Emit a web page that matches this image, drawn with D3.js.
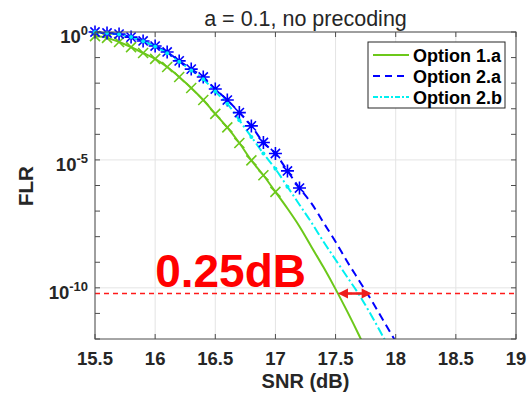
<!DOCTYPE html>
<html>
<head>
<meta charset="utf-8">
<script src="https://cdn.jsdelivr.net/npm/d3@7"></script>
<style>
    body { margin: 0; background: #fff; }
    svg { display: block; font-family: 'Liberation Sans', Arial, sans-serif; }
</style>
</head>
<body>
<svg id="chart" width="529" height="394"></svg>
<script>
// SNR grid for the markers and for the continuing curves
const snrMarkers1a = [15.5, 15.6, 15.7, 15.8, 15.9, 16.0, 16.1, 16.2, 16.3, 16.4, 16.5, 16.6, 16.7, 16.8, 16.9, 17.0];
const flrMarkers1a = [-0.16, -0.23, -0.39, -0.59, -0.82, -1.05, -1.37, -1.76, -2.19, -2.66, -3.2, -3.73, -4.34, -5.02, -5.6, -6.25];
const snrTail1a = [17.1, 17.2, 17.3, 17.4, 17.5, 17.6, 17.7, 17.8];
const flrTail1a = [-6.9, -7.6, -8.4, -9.2, -10.05, -10.95, -11.9, -12.9];

const snrMarkers2a = [15.5, 15.6, 15.7, 15.8, 15.9, 16.0, 16.1, 16.2, 16.3, 16.4, 16.5, 16.6, 16.7, 16.8, 16.9, 17.0, 17.1, 17.2];
const flrMarkers2a = [0.0, -0.04, -0.08, -0.2, -0.35, -0.55, -0.78, -1.13, -1.45, -1.76, -2.23, -2.66, -3.15, -3.67, -4.32, -4.75, -5.43, -6.1];
const snrTail2a = [17.3, 17.4, 17.5, 17.6, 17.7, 17.8, 17.9, 18.0];
const flrTail2a = [-6.7, -7.45, -8.2, -9.0, -9.75, -10.5, -11.3, -12.1];

const snrMarkers2b = [15.5, 15.6, 15.7, 15.8, 15.9, 16.0, 16.1, 16.2, 16.3, 16.4, 16.5, 16.6, 16.7, 16.8, 16.9, 17.0, 17.1];
const flrMarkers2b = [0.0, -0.04, -0.09, -0.2, -0.36, -0.57, -0.83, -1.16, -1.5, -1.85, -2.33, -2.8, -3.45, -4.1, -4.75, -5.35, -6.05];
const snrTail2b = [17.2, 17.3, 17.4, 17.5, 17.6, 17.7, 17.8, 17.9, 18.0];
const flrTail2b = [-6.75, -7.45, -8.2, -8.9, -9.6, -10.3, -11.1, -11.95, -12.8];

const seriesNames = ['Option 1.a', 'Option 2.a', 'Option 2.b'];

// target FLR and the 0.25 dB gap annotation
const targetFlr = 6e-11;
const gapSnr = [17.52, 17.8];
const gapLabel = '0.25dB';
const gapLabelPos = [16.0, 1.07e-10];

const xTickValues = [15.5, 16, 16.5, 17, 17.5, 18, 18.5, 19];
const yMajorExp = [0, -5, -10];
const yMinorExp = [0, -1, -2, -3, -4, -5, -6, -7, -8, -9, -10, -11, -12];

const titleText = 'a = 0.1, no precoding';
const xLabelText = 'SNR (dB)';
const yLabelText = 'FLR';

const svg = d3.select('#chart');
const margin = { left: 95, right: 13, top: 32, bottom: 55 };
const width = 529 - margin.left - margin.right;
const height = 394 - margin.top - margin.bottom;

const x = d3.scaleLinear().domain([15.5, 19]).range([0, width]);
const y = d3.scaleLog().domain([1e-12, 1]).range([height, 0]);

const ink = '#262626';
const green = '#6cc81a';
const blue = '#0000ff';
const cyan = '#00f0f0';

const toPoints = (snr, flr) => snr.map((s, i) => ({ snr: s, flr: Math.pow(10, flr[i]) }));

const g = svg.append('g').attr('transform', `translate(${margin.left},${margin.top})`);

svg.append('defs')
    .append('clipPath')
    .attr('id', 'plot-clip')
    .append('rect')
    .attr('width', width)
    .attr('height', height);

// grid
g.append('g')
    .selectAll('line')
    .data(xTickValues)
    .join('line')
    .attr('x1', (d) => x(d))
    .attr('x2', (d) => x(d))
    .attr('y1', 0)
    .attr('y2', height)
    .attr('stroke', '#e4e4e4');

g.append('g')
    .selectAll('line')
    .data(yMajorExp)
    .join('line')
    .attr('x1', 0)
    .attr('x2', width)
    .attr('y1', (d) => y(Math.pow(10, d)))
    .attr('y2', (d) => y(Math.pow(10, d)))
    .attr('stroke', '#e4e4e4');

// curves
const plot = g.append('g').attr('clip-path', 'url(#plot-clip)');

const line = d3
    .line()
    .x((d) => x(d.snr))
    .y((d) => y(d.flr))
    .curve(d3.curveMonotoneX);

const series = [
    { name: seriesNames[0], color: green, dash: null, marker: 'x', markers: toPoints(snrMarkers1a, flrMarkers1a), tail: toPoints(snrTail1a, flrTail1a) },
    { name: seriesNames[1], color: blue, dash: '8,5', marker: 'star', markers: toPoints(snrMarkers2a, flrMarkers2a), tail: toPoints(snrTail2a, flrTail2a) },
    { name: seriesNames[2], color: cyan, dash: '9,3,2,3', marker: 'dot', markers: toPoints(snrMarkers2b, flrMarkers2b), tail: toPoints(snrTail2b, flrTail2b) }
];

// red target line
plot.append('line')
    .attr('x1', 0)
    .attr('x2', width)
    .attr('y1', y(targetFlr))
    .attr('y2', y(targetFlr))
    .attr('stroke', '#ff1a1a')
    .attr('stroke-width', 1.4)
    .attr('stroke-dasharray', '5,4');

const markerPath = (type) => {
    if (type === 'x') return 'M-5,-5L5,5M-5,5L5,-5';
    return 'M-6.5,0L6.5,0M0,-6.5L0,6.5M-4.6,-4.6L4.6,4.6M-4.6,4.6L4.6,-4.6';
};

// markers are not clipped, as in the original figure
const markerLayer = g.append('g');

series.forEach((s) => {
    plot.append('path')
        .datum(s.markers.concat(s.tail))
        .attr('d', line)
        .attr('fill', 'none')
        .attr('stroke', s.color)
        .attr('stroke-width', 2)
        .attr('stroke-dasharray', s.dash);

    const mg = markerLayer.append('g');
    if (s.marker === 'dot') {
        mg.selectAll('circle')
            .data(s.markers)
            .join('circle')
            .attr('cx', (d) => x(d.snr))
            .attr('cy', (d) => y(d.flr))
            .attr('r', 2)
            .attr('fill', s.color);
    } else {
        mg.selectAll('path')
            .data(s.markers)
            .join('path')
            .attr('transform', (d) => `translate(${x(d.snr)},${y(d.flr)})`)
            .attr('d', markerPath(s.marker))
            .attr('stroke', s.color)
            .attr('stroke-width', 1.6)
            .attr('fill', 'none');
    }
});

// gap arrow
const arrowY = y(targetFlr);
const ax0 = x(gapSnr[0]);
const ax1 = x(gapSnr[1]);
g.append('line')
    .attr('x1', ax0 + 8)
    .attr('x2', ax1 - 8)
    .attr('y1', arrowY)
    .attr('y2', arrowY)
    .attr('stroke', '#ee1c1c')
    .attr('stroke-width', 2.5);
g.append('path')
    .attr('d', `M${ax0},${arrowY}L${ax0 + 10},${arrowY - 5}L${ax0 + 10},${arrowY + 5}Z`
        + `M${ax1},${arrowY}L${ax1 - 10},${arrowY - 5}L${ax1 - 10},${arrowY + 5}Z`)
    .attr('fill', '#ee1c1c');

g.append('text')
    .attr('x', x(gapLabelPos[0]))
    .attr('y', y(gapLabelPos[1]))
    .attr('fill', '#ff0000')
    .attr('font-size', 46)
    .attr('font-weight', 'bold')
    .text(gapLabel);

// axes box and ticks
g.append('rect')
    .attr('width', width)
    .attr('height', height)
    .attr('fill', 'none')
    .attr('stroke', '#4d4d4d');

const tickLen = 5;
const ticks = g.append('g').attr('stroke', '#4d4d4d');
xTickValues.forEach((v) => {
    ticks.append('line').attr('x1', x(v)).attr('x2', x(v)).attr('y1', height).attr('y2', height - tickLen);
    ticks.append('line').attr('x1', x(v)).attr('x2', x(v)).attr('y1', 0).attr('y2', tickLen);
});
yMinorExp.forEach((e) => {
    const yy = y(Math.pow(10, e));
    ticks.append('line').attr('x1', 0).attr('x2', tickLen).attr('y1', yy).attr('y2', yy);
    ticks.append('line').attr('x1', width).attr('x2', width - tickLen).attr('y1', yy).attr('y2', yy);
});

g.append('g')
    .selectAll('text')
    .data(xTickValues)
    .join('text')
    .attr('x', (d) => x(d))
    .attr('y', height + 26)
    .attr('text-anchor', 'middle')
    .attr('font-size', 18.5)
    .attr('font-weight', 'bold')
    .attr('fill', ink)
    .text((d) => d);

const yLabels = g.append('g')
    .selectAll('text')
    .data(yMajorExp)
    .join('text')
    .attr('x', -7)
    .attr('y', (d) => y(Math.pow(10, d)) + 11)
    .attr('text-anchor', 'end')
    .attr('font-weight', 'bold')
    .attr('fill', ink);
yLabels.append('tspan').attr('font-size', 18.5).text('10');
yLabels.append('tspan')
    .attr('font-size', 13)
    .attr('dy', -8)
    .text((d) => (d === 0 ? '0' : String(d)));

// titles
svg.append('text')
    .attr('x', margin.left + width / 2)
    .attr('y', 26)
    .attr('text-anchor', 'middle')
    .attr('font-size', 21.5)
    .attr('fill', ink)
    .text(titleText);

svg.append('text')
    .attr('x', margin.left + width / 2)
    .attr('y', 387.5)
    .attr('text-anchor', 'middle')
    .attr('font-size', 20)
    .attr('font-weight', 'bold')
    .attr('fill', ink)
    .text(xLabelText);

svg.append('text')
    .attr('transform', 'translate(33,186) rotate(-90)')
    .attr('text-anchor', 'middle')
    .attr('font-size', 20.5)
    .attr('font-weight', 'bold')
    .attr('fill', ink)
    .text(yLabelText);

// legend
const legend = svg.append('g').attr('transform', 'translate(368,42)');
legend.append('rect')
    .attr('width', 137)
    .attr('height', 66)
    .attr('fill', '#fff')
    .attr('stroke', ink)
    .attr('stroke-width', 1);

const rows = legend.selectAll('g.row')
    .data(series)
    .join('g')
    .attr('class', 'row')
    .attr('transform', (d, i) => `translate(0,${13 + i * 21})`);
rows.append('line')
    .attr('x1', 5)
    .attr('x2', 41)
    .attr('stroke', (d) => d.color)
    .attr('stroke-width', 2)
    .attr('stroke-dasharray', (d) => (d.dash === '8,5' ? '7,5' : d.dash ? '5,2,2,2' : null));
rows.append('text')
    .attr('x', 45)
    .attr('y', 6.5)
    .attr('font-size', 18)
    .attr('font-weight', 'bold')
    .attr('fill', '#000')
    .text((d) => d.name);
</script>
</body>
</html>
